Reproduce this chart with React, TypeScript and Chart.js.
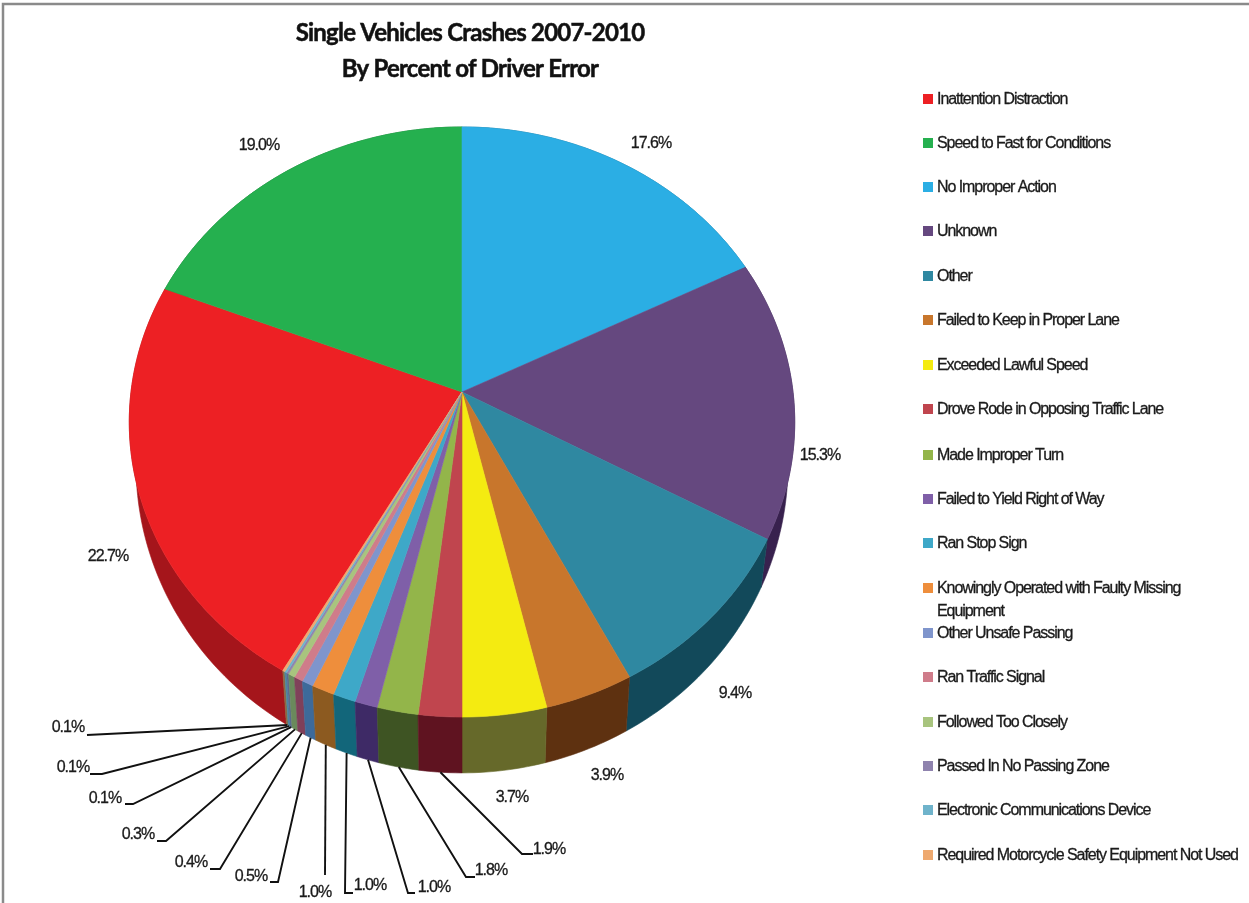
import React, { useEffect, useRef } from "react";
import { Chart, registerables } from "chart.js";

Chart.register(...registerables);

const titleLines = ["Single Vehicles Crashes 2007-2010", "By Percent of Driver Error"];

const categories = [
  "Inattention Distraction",
  "Speed to Fast for Conditions",
  "No Improper Action",
  "Unknown",
  "Other",
  "Failed to Keep in Proper Lane",
  "Exceeded Lawful Speed",
  "Drove Rode in Opposing Traffic Lane",
  "Made Improper Turn",
  "Failed to Yield Right of Way",
  "Ran Stop Sign",
  "Knowingly Operated with Faulty Missing Equipment",
  "Other Unsafe Passing",
  "Ran Traffic Signal",
  "Followed Too Closely",
  "Passed In No Passing Zone",
  "Electronic Communications Device",
  "Required Motorcycle Safety Equipment Not Used",
];

const percentages = [22.7, 19.0, 17.6, 15.3, 9.4, 3.9, 3.7, 1.9, 1.8, 1.0, 1.0, 1.0, 0.5, 0.4, 0.3, 0.1, 0.1, 0.1];

const faceColors = [
  "#ED2024", "#25B04F", "#2BAEE4", "#65487F", "#2F88A1", "#C8762C",
  "#F4EB11", "#C0454E", "#93B54A", "#7F5FA8", "#3EA8C8", "#EE8E3C",
  "#7F95CC", "#CF7C8A", "#A8C47E", "#8F83AE", "#6FB3CB", "#EEA96F",
];

const wallColors = [
  "#A5151B", "#176E30", "#1A6C8E", "#38214E", "#12495A", "#5E3110",
  "#66692A", "#5F1320", "#3E5423", "#3E2A66", "#12667A", "#8C5A20",
  "#3D6A9A", "#80405A", "#6A8A5C", "#5A6A90", "#4A86A0", "#8A6A40",
];

// Label centres for each slice's percentage, in canvas pixels.
const valueLabelSpots: [number, number][] = [
  [108, 557], [259, 146], [651, 144], [820, 456], [735, 694], [607, 776],
  [512, 798], [549, 850], [491, 871], [434, 888], [370, 886], [315, 893],
  [251, 877], [191, 863], [138, 835], [105, 799], [73, 768], [68, 728],
];

// Bends of the leader lines for the thin slices; null means the label sits free.
const leaderBends: ([number, number][] | null)[] = [
  null, null, null, null, null, null, null,
  [[522, 854], [533, 854]],
  [[466, 877], [475, 877]],
  [[408, 893], [415, 893]],
  [[345, 893], [353, 893]],
  [[325, 875]],
  [[278, 882], [270, 882]],
  [[220, 869], [210, 869]],
  [[166, 841], [157, 841]],
  [[133, 804], [125, 804]],
  [[102, 774], [90, 774]],
  [[87, 735]],
];

const legendRows = [100, 144, 188, 232, 277, 321, 366, 410, 456, 500, 544, 589, 634, 678, 723, 767, 811, 856];
const legendWrap: Record<number, string[]> = {
  11: ["Knowingly Operated with Faulty Missing", "Equipment"],
};

const LABEL_FONT = '16px "Liberation Sans"';
const TILT = 0.1017;
const FACE = { ax: 1, by: 292 / 331, dy: 0 };
const BASE = { ax: 324.3 / 331, by: 304.8 / 331, dy: 41.6 };

type Rim = typeof FACE;

// Projects an angle on the pie's rim onto the canvas, with the near edge enlarged.
function rimPoint(arc: any, angle: number, rim: Rim): [number, number] {
  const u = Math.cos(angle);
  const v = Math.sin(angle);
  const d = 1 - TILT * v;
  const r = arc.outerRadius;
  return [arc.x + (rim.ax * r * u) / d, arc.y + rim.dy + (rim.by * r * v) / d];
}

function rimPath(arc: any, rim: Rim): [number, number][] {
  const pts: [number, number][] = [];
  const steps = Math.max(2, Math.ceil(((arc.endAngle - arc.startAngle) * 180) / Math.PI));
  for (let i = 0; i <= steps; i++) {
    pts.push(rimPoint(arc, arc.startAngle + ((arc.endAngle - arc.startAngle) * i) / steps, rim));
  }
  return pts;
}

function fillShape(ctx: CanvasRenderingContext2D, pts: [number, number][], color: string) {
  ctx.beginPath();
  pts.forEach(([x, y], i) => (i ? ctx.lineTo(x, y) : ctx.moveTo(x, y)));
  ctx.closePath();
  ctx.fillStyle = color;
  ctx.strokeStyle = color;
  ctx.lineWidth = 0.6;
  ctx.fill();
  ctx.stroke();
}

// Text with a hairline outline so small glyphs keep a heavy, dark look.
function heavyText(ctx: CanvasRenderingContext2D, text: string, x: number, y: number, weight: number) {
  ctx.lineWidth = weight;
  ctx.strokeStyle = ctx.fillStyle as string;
  ctx.strokeText(text, x, y);
  ctx.fillText(text, x, y);
}

const tiltedPie = {
  id: "tiltedPie",
  beforeDatasetsDraw(chart: any) {
    const ctx: CanvasRenderingContext2D = chart.ctx;
    const arcs: any[] = chart.getDatasetMeta(0).data;

    // Outer wall, far side first, then the top face over it.
    const order = arcs
      .map((arc, i) => ({ arc, i, depth: Math.sin((arc.startAngle + arc.endAngle) / 2) }))
      .sort((a, b) => a.depth - b.depth);
    order.forEach(({ arc, i }) => {
      const top = rimPath(arc, FACE);
      const bottom = rimPath(arc, BASE).reverse();
      fillShape(ctx, [...top, ...bottom], wallColors[i]);
    });
    arcs.forEach((arc, i) => {
      fillShape(ctx, [[arc.x, arc.y], ...rimPath(arc, FACE)], faceColors[i]);
    });
    return false;
  },
  afterDraw(chart: any) {
    const ctx: CanvasRenderingContext2D = chart.ctx;
    const arcs: any[] = chart.getDatasetMeta(0).data;
    ctx.save();

    // Frame along the top and left edges.
    ctx.strokeStyle = "#8A8A8A";
    ctx.lineWidth = 2.5;
    ctx.beginPath();
    ctx.moveTo(chart.width, 4);
    ctx.lineTo(3, 4);
    ctx.lineTo(3, chart.height);
    ctx.stroke();

    // Title
    ctx.fillStyle = "#111111";
    ctx.textAlign = "center";
    ctx.textBaseline = "middle";
    ctx.font = "bold 24px Lato";
    (ctx as any).letterSpacing = "-0.78px";
    titleLines.forEach((line, i) => heavyText(ctx, line, 470, 33 + i * 36, 0.5));

    // Leader lines
    ctx.strokeStyle = "#111111";
    ctx.lineWidth = 1.9;
    arcs.forEach((arc, i) => {
      const bends = leaderBends[i];
      if (!bends) return;
      const [sx, sy] = rimPoint(arc, (arc.startAngle + arc.endAngle) / 2, BASE);
      ctx.beginPath();
      ctx.moveTo(sx, sy);
      bends.forEach(([x, y]) => ctx.lineTo(x, y));
      ctx.stroke();
    });

    // Percentage labels
    (ctx as any).letterSpacing = "-0.95px";
    ctx.font = LABEL_FONT;
    ctx.fillStyle = "#1a1a1a";
    percentages.forEach((value, i) => {
      const [x, y] = valueLabelSpots[i];
      heavyText(ctx, `${value.toFixed(1)}%`, x, y, 0.3);
    });

    // Legend
    (ctx as any).letterSpacing = "-1.06px";
    ctx.textAlign = "left";
    categories.forEach((name, i) => {
      const y = legendRows[i];
      ctx.fillStyle = faceColors[i];
      ctx.fillRect(923, y - 6, 10, 10);
      ctx.fillStyle = "#1a1a1a";
      (legendWrap[i] ?? [name]).forEach((line, k) => heavyText(ctx, line, 937, y + k * 23, 0.3));
    });
    ctx.restore();
  },
};

export default function App() {
  const ref = useRef<HTMLCanvasElement>(null);

  useEffect(() => {
    const total = percentages.reduce((a, b) => a + b, 0);
    const chart = new Chart(ref.current!, {
      type: "pie",
      data: {
        labels: categories,
        datasets: [{ data: percentages, backgroundColor: faceColors, borderWidth: 0 }],
      },
      options: {
        responsive: false,
        animation: false,
        rotation: (-360 * (percentages[0] + percentages[1])) / total,
        layout: { padding: { left: 131, right: 456, top: 61, bottom: 180 } },
        plugins: { legend: { display: false }, title: { display: false }, tooltip: { enabled: false } },
      },
      plugins: [tiltedPie],
    } as any);
    return () => chart.destroy();
  }, []);

  return (
    <div style={{ position: "absolute", left: 0, top: 0, width: 1249, height: 903, background: "#fff" }}>
      <canvas ref={ref} width={1249} height={903} style={{ display: "block" }} />
    </div>
  );
}
